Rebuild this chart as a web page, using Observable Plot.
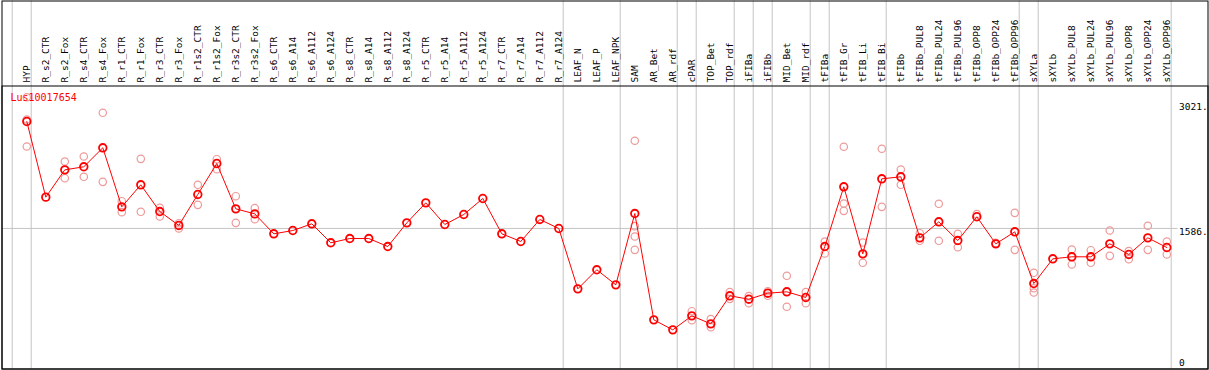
<!DOCTYPE html>
<html><head><meta charset="utf-8">
<script src="https://cdn.jsdelivr.net/npm/d3@7"></script>
<script src="https://cdn.jsdelivr.net/npm/@observablehq/plot@0.6"></script>
<style>body{margin:0;background:#fff}</style>
</head><body><div id="chart"></div>
<script>
// Sample groups (a separator line is drawn around each group)
const groups = [
  ["HYP"],
  ["R_s2_CTR","R_s2_Fox","R_s4_CTR","R_s4_Fox","R_r1_CTR","R_r1_Fox","R_r3_CTR","R_r3_Fox",
   "R_r1s2_CTR","R_r1s2_Fox","R_r3s2_CTR","R_r3s2_Fox","R_s6_CTR","R_s6_A14","R_s6_A112","R_s6_A124",
   "R_s8_CTR","R_s8_A14","R_s8_A112","R_s8_A124","R_r5_CTR","R_r5_A14","R_r5_A112","R_r5_A124",
   "R_r7_CTR","R_r7_A14","R_r7_A112","R_r7_A124"],
  ["LEAF_N","LEAF_P","LEAF_NPK"],
  ["SAM","AR_Bet","AR_rdf"],
  ["cPAR"],
  ["TOP_Bet","TOP_rdf"],
  ["iFIBa"],
  ["iFIBb"],
  ["MID_Bet","MID_rdf"],
  ["tFIBa"],
  ["tFIB_Gr","tFIB_Li","tFIB_Bi"],
  ["tFIBb","tFIBb_PUL8","tFIBb_PUL24","tFIBb_PUL96","tFIBb_OPP8","tFIBb_OPP24","tFIBb_OPP96"],
  ["sXYLa"],
  ["sXYLb","sXYLb_PUL8","sXYLb_PUL24","sXYLb_PUL96","sXYLb_OPP8","sXYLb_OPP24","sXYLb_OPP96"]
];
const categories = groups.flat();

// Mean expression per sample
const means = [
  2814,
  1945,2259,2294,2512,1834,2087,1780,1620,1976,2332,1811,1753,1524,1562,1639,1421,
  1470,1470,1378,1650,1880,1631,1746,1930,1524,1436,1689,1585,
  892,1111,938,
  1757,536,421,
  582,
  490,812,
  773,
  842,
  858,793,
  1378,
  2064,1294,2156,
  2179,1478,1662,1447,1720,1409,1547,
  953,
  1237,1260,1260,1409,1287,1478,1367
];

// Replicate values per sample
const replicates = [
  [3093,2837,2527],
  [],[2355,2163],[2412,2179],[2914,2121],[1899,1773],[2385,1777],[1823,1723],[1646,1585],
  [2087,1857],[2381,2266],[1956,1650],[1819,1692],[],[],[],[],
  [],[],[],[],[],[],[],[],[],[],[],[],
  [],[],[],
  [2593,1612,1493,1340],[],[],
  [635,532],
  [544,452],[854,777],
  [808,727],
  [865,812],
  [1042,686],[854,727],
  [1436,1298],
  [2524,1872,1788],[1424,1191],[2501,1834],
  [2263,2087],[1531,1444],[1869,1444],[1524,1370],[1750],[1420],[1765,1340],
  [1076,899,850],
  [],[1344,1172],[1336,1191],[1562,1271],[1325,1233],[1616,1340],[1436,1287]
];

const tickValues = [0, 1586, 3021];
const tickLabels = ["0", "1586.", "3021."];
const geneId = "Lus10017654";

const meanData = categories.map((c, i) => ({i, c, v: means[i]}));
const repData = replicates.flatMap((r, i) => r.map(v => ({i, v})));
const separators = [-1];
{ let pos = -1; for (const g of groups) { pos += g.length; separators.push(pos); } }
const ticks = tickValues.map((v, i) => ({v, label: tickLabels[i]}));

const chart = Plot.plot({
  width: 1209, height: 370,
  marginTop: 85.5, marginLeft: 1.5, marginRight: 1.5, marginBottom: 1.5,
  x: {type: "linear", domain: [0, categories.length - 1], range: [26.3, 1166.3], axis: null},
  y: {type: "linear", domain: [0, 3021], range: [366, 103], axis: null},
  style: {fontFamily: "'DejaVu Sans Mono', monospace", fontSize: "10px", background: "white"},
  marks: [
    Plot.ruleY([tickValues[1]], {stroke: "#c4c4c4", insetRight: 30}),
    Plot.ruleX(separators, {x: d => d, dx: 4.4, stroke: "#c4c4c4", insetTop: -85}),
    Plot.frame({stroke: "black", insetTop: -85}),
    Plot.frame({stroke: "black"}),
    Plot.text(categories, {x: (d, i) => i, text: d => d, frameAnchor: "top", dy: -3.5, rotate: -90,
      textAnchor: "start", lineAnchor: "middle", fill: "black", fontSize: 9.5}),
    Plot.text(ticks.filter(d => d.v > 0), {y: "v", text: "label", frameAnchor: "right", dx: -29,
      textAnchor: "start", lineAnchor: "top", fill: "black", fontSize: 9.5}),
    Plot.text(ticks.filter(d => d.v === 0), {y: "v", text: "label", frameAnchor: "right", dx: -29,
      dy: -1, textAnchor: "start", lineAnchor: "bottom", fill: "black", fontSize: 9.5}),
    Plot.dot(repData, {x: "i", y: "v", r: 3.7, stroke: "#ee9a9a", strokeWidth: 1.2, fill: "none"}),
    Plot.line(meanData, {x: "i", y: "v", stroke: "red", strokeWidth: 1}),
    Plot.dot(meanData, {x: "i", y: "v", r: 3.8, stroke: "red", strokeWidth: 1.8, fill: "none"}),
    Plot.text([geneId], {frameAnchor: "top-left", dx: 8.5, dy: 11.5, textAnchor: "start",
      lineAnchor: "middle", fill: "red"})
  ]
});
document.getElementById("chart").append(chart);
</script>
</body></html>
